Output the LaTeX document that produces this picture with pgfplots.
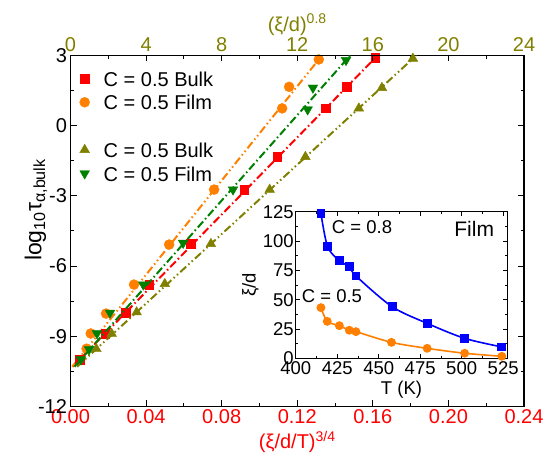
\documentclass[border=0pt]{standalone}
\usepackage{fontspec}
\setmainfont{Liberation Sans}
\usepackage{pgfplots}
\pgfplotsset{compat=1.18}
\definecolor{cred}{RGB}{255,0,0}
\definecolor{corange}{RGB}{255,128,0}
\definecolor{cgreen}{RGB}{0,128,0}
\definecolor{colive}{RGB}{128,128,0}
\definecolor{cblue}{RGB}{0,0,255}
\newcommand{\fA}{\fontsize{20}{24}\selectfont}
\newcommand{\fB}{\fontsize{18.5}{22}\selectfont}
\pgfplotsset{
  ddot/.style={dash pattern=on 8pt off 3pt on 1.5pt off 3pt on 1.5pt off 3pt},
  dsdot/.style={dash pattern=on 8pt off 3pt on 1.5pt off 3pt},
}
\begin{document}
\begin{tikzpicture}[x=1pt,y=1pt]
\useasboundingbox (0,0) rectangle (546,462);
% ---------------- main axis (bottom x) ----------------
\begin{axis}[
  at={(70.5pt,55.5pt)}, anchor=south west,
  width=453.5pt, height=351pt, scale only axis,
  xmin=0, xmax=0.24, ymin=-12, ymax=3,
  xtick={0,0.04,0.08,0.12,0.16,0.2,0.24},
  ytick={-12,-9,-6,-3,0,3},
  minor x tick num=1, minor y tick num=1,
  xtick pos=bottom, ytick pos=both, yticklabel pos=left,
  tick align=inside,
  major tick length=6pt, minor tick length=3.5pt,
  every tick/.style={black, line width=1pt},
  axis line style={line width=1.3pt},
  /pgf/number format/assume math mode=true,
  tick label style={font=\fA},
  xticklabel style={text=cred, /pgf/number format/fixed, /pgf/number format/fixed zerofill, /pgf/number format/precision=2},
  xlabel={(ξ/d/T)\textsuperscript{3/4}},
  xlabel style={text=cred, font=\fA, yshift=0pt},
  ylabel={log\textsubscript{10}τ\textsubscript{α,bulk}},
  ylabel style={font=\fontsize{23}{26}\selectfont, at={(ticklabel cs:0.56)}, yshift=-16pt},
]
% fit lines
\addplot[cred, line width=2pt, dsdot] coordinates {(0.0011,-10.30) (0.1625,3.00)};
\addplot[corange, line width=2pt, ddot] coordinates {(0.0009,-10.30) (0.1331,3.00)};
% red squares: C=0.5 Bulk
\addplot[only marks, mark=square*, mark size=4.3pt, cred] coordinates {
(0.1613,2.90) (0.1462,1.66) (0.1352,0.74) (0.1093,-1.32) (0.0919,-2.73)
(0.0637,-5.05) (0.0417,-6.79) (0.0293,-7.98) (0.0184,-8.88) (0.0048,-9.99)};
% orange circles: C=0.5 Film
\addplot[only marks, mark=*, mark size=5pt, corange] coordinates {
(0.1314,2.83) (0.1157,1.66) (0.1120,0.74) (0.0760,-2.73) (0.0522,-5.08)
(0.0336,-6.79) (0.0188,-8.03) (0.0107,-8.88) (0.0085,-9.53)};
\end{axis}
% ---------------- second axis (top x) ----------------
\begin{axis}[
  at={(70.5pt,55.5pt)}, anchor=south west,
  width=453.5pt, height=351pt, scale only axis,
  xmin=0, xmax=24, ymin=-12, ymax=3,
  axis x line*=top, axis y line=none,
  xtick={0,4,8,12,16,20,24}, minor x tick num=1,
  tick align=inside,
  major tick length=6pt, minor tick length=3.5pt,
  every tick/.style={black, line width=1pt},
  axis line style={line width=1.3pt},
  /pgf/number format/assume math mode=true,
  tick label style={font=\fA},
  xticklabel style={text=colive},
  xlabel={(ξ/d)\textsuperscript{0.8}},
  xlabel style={text=colive, font=\fA, yshift=-4.5pt},
  legend style={at={(rel axis cs:0.012,0.962)}, anchor=north west, draw=none, fill=none,
     font=\fA, inner sep=0pt, row sep=4.75pt,
     nodes={inner ysep=0pt, inner xsep=14pt, text height=17pt, text depth=2pt}},
  legend cell align=left,
]
\addlegendimage{only marks, mark=square*, mark size=4.3pt, cred}
\addlegendentry{C = 0.5 Bulk}
\addlegendimage{only marks, mark=*, mark size=5pt, corange}
\addlegendentry{C = 0.5 Film}
\addlegendimage{empty legend}
\addlegendentry{\phantom{C}}
\addplot[cgreen, line width=2pt, dsdot, forget plot] coordinates {(0.21,-10.30) (14.80,3.00)};
\addplot[colive, line width=2pt, ddot, forget plot] coordinates {(0.35,-10.30) (18.30,3.00)};
% olive up-triangles: C=0.5 Bulk
\addplot[only marks, mark=triangle*, mark size=5.6pt, colive] coordinates {
(18.12,2.87) (16.48,1.62) (15.26,0.74) (12.43,-1.33) (10.54,-2.73)
(7.43,-5.05) (4.99,-6.76) (3.50,-7.97) (2.18,-8.89) (1.37,-9.54)};
\addlegendentry{C = 0.5 Bulk}
% green down-triangles: C=0.5 Film
\addplot[only marks, mark=triangle*, mark size=5.6pt, mark options={rotate=180}, cgreen] coordinates {
(14.58,2.80) (12.83,1.62) (12.55,0.69) (8.60,-2.73) (5.96,-5.01)
(3.85,-6.79) (2.09,-8.00) (1.40,-8.88) (0.98,-9.56) (0.55,-9.99)};
\addlegendentry{C = 0.5 Film}
\end{axis}
% ---------------- inset ----------------
\begin{axis}[
  at={(295.7pt,103.7pt)}, anchor=south west,
  width=211.6pt, height=146.6pt, scale only axis,
  xmin=400, xmax=527.5, ymin=0, ymax=125,
  xtick={400,425,450,475,500,525}, ytick={0,25,50,75,100,125},
  minor x tick num=1, minor y tick num=1,
  tick align=inside,
  major tick length=4.5pt, minor tick length=2.5pt,
  every tick/.style={black, line width=0.8pt},
  axis line style={line width=1pt},
  axis background/.style={fill=white},
  /pgf/number format/assume math mode=true,
  tick label style={font=\fB},
  yticklabel style={xshift=1.5pt},
  xlabel={T (K)}, ylabel={ξ/d},
  label style={font=\fB},
  xlabel style={yshift=1pt},
  ylabel style={yshift=-3pt},
]
\addplot[cblue, line width=1.6pt, smooth, mark=square*, mark size=3.6pt] coordinates {
(415.2,123.6) (419.2,95.2) (426.3,83.2) (432.3,78.1) (436.3,70.2)
(458.1,44.0) (479.2,29.8) (501.8,17.0) (524.2,9.7)};
\addplot[corange, line width=1.6pt, smooth, mark=*, mark size=3.6pt] coordinates {
(415.2,43.2) (419.0,31.5) (426.3,27.8) (432.3,23.9) (436.3,22.7)
(457.7,13.6) (479.2,8.5) (501.8,4.3) (524.2,1.7)};
\node[anchor=west, font=\fB, inner sep=0pt] at (axis cs:421.7,112.2) {C = 0.8};
\node[anchor=west, font=\fB, inner sep=0pt] at (axis cs:403.6,53.1) {C = 0.5};
\node[anchor=west, font=\fontsize{21}{24}\selectfont, inner sep=0pt] at (axis cs:495.5,110.3) {Film};
\end{axis}
\end{tikzpicture}
\end{document}
